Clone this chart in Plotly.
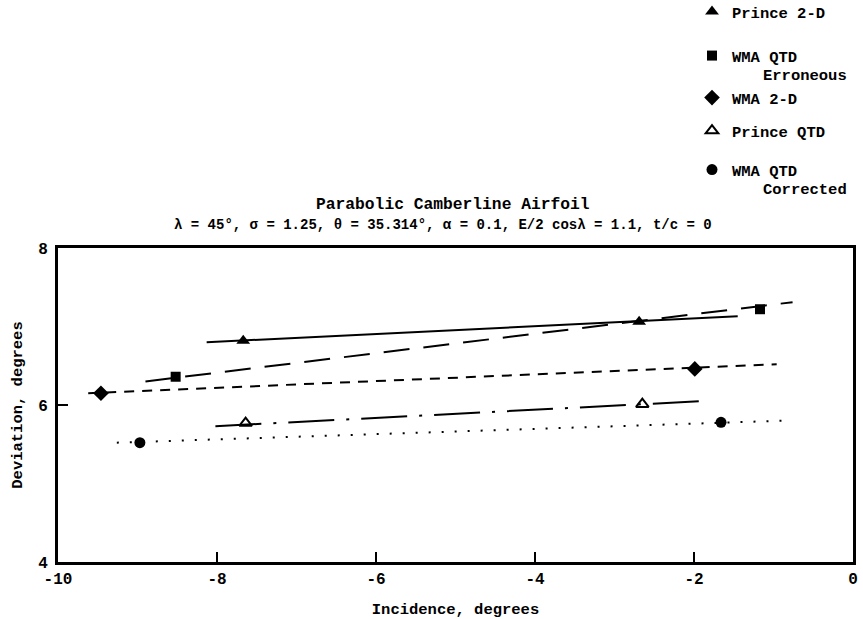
import plotly.graph_objects as go

# ---- data ----
names = ["Prince 2-D", "WMA QTD", "WMA 2-D", "Prince QTD", "WMA QTD"]
sub_names = ["", "Erroneous", "", "", "Corrected"]

# measured points
prince2d_x = [-7.67, -2.69]
prince2d_y = [6.82, 7.06]
wma_err_x = [-8.52, -1.17]
wma_err_y = [6.36, 7.22]
wma2d_x = [-9.46, -1.99]
wma2d_y = [6.15, 6.46]
princeqtd_x = [-7.64, -2.65]
princeqtd_y = [5.77, 6.01]
wma_cor_x = [-8.97, -1.66]
wma_cor_y = [5.52, 5.78]

# faired lines (end points)
prince2d_lx = [-8.13, -1.45]
prince2d_ly = [6.80, 7.13]
wma_err_lx = [-8.9, -0.76]
wma_err_ly = [6.30, 7.31]
wma2d_lx = [-9.62, -0.96]
wma2d_ly = [6.15, 6.52]
princeqtd_lx = [-8.02, -1.89]
princeqtd_ly = [5.73, 6.05]
wma_cor_lx = [-9.26, -0.88]
wma_cor_ly = [5.52, 5.80]

x_ticks = [-10, -8, -6, -4, -2, 0]
y_ticks = [4, 6, 8]

FONT = "Liberation Mono, Courier New, monospace"

W, H = 863, 619
ML, MR, MT, MB = 58, 10, 248, 57
PW, PH = W - ML - MR, H - MT - MB


def px_to_paper_y(py):
    return (H - MB - py) / PH


def px_to_paper_x(px):
    return (px - ML) / PW


series = [
    (prince2d_x, prince2d_y, prince2d_lx, prince2d_ly, "triangle-up", 12, "solid"),
    (wma_err_x, wma_err_y, wma_err_lx, wma_err_ly, "square", 10, "26px,14px"),
    (wma2d_x, wma2d_y, wma2d_lx, wma2d_ly, "diamond", 12, "10px,8px"),
    (princeqtd_x, princeqtd_y, princeqtd_lx, princeqtd_ly, "triangle-up-open", 11, "46px,12px,3px,12px"),
    (wma_cor_x, wma_cor_y, wma_cor_lx, wma_cor_ly, "circle", 11, "2px,11px"),
]

# legend entry pixel centres (from the reference)
legend_py = [12, 56, 98, 131, 170]
legend_sub_py = [None, 76, None, None, 190]
legend_ids = ["legend", "legend2", "legend3", "legend4", "legend5"]

fig = go.Figure()
for px, py, lx, ly, sym, sz, dash in series:
    fig.add_trace(go.Scatter(x=lx, y=ly, mode="lines", showlegend=False,
                             line=dict(color="black", width=2, dash=dash), hoverinfo="skip"))
for i, (px, py, lx, ly, sym, sz, dash) in enumerate(series):
    fig.add_trace(go.Scatter(x=px, y=py, mode="markers", name=names[i], legend=legend_ids[i],
                             marker=dict(symbol=sym, size=sz, color="black",
                                         line=dict(color="black", width=2 if "open" in sym else 0))))

axis_common = dict(showline=True, linecolor="black", linewidth=3, mirror=True,
                   ticks="inside", ticklen=10, tickwidth=2, tickcolor="black",
                   showgrid=False, zeroline=False, automargin=False,
                   tickfont=dict(family=FONT, size=16, color="black", weight="bold"))

legend_font = dict(family=FONT, size=15.5, color="black", weight="bold")
legend_layout = {}
for i, lid in enumerate(legend_ids):
    legend_layout[lid] = dict(x=px_to_paper_x(692), xanchor="left",
                              y=px_to_paper_y(legend_py[i]), yanchor="middle",
                              font=legend_font, bgcolor="rgba(0,0,0,0)", borderwidth=0)

fig.update_layout(
    width=W, height=H,
    margin=dict(l=ML, r=MR, t=MT, b=MB, autoexpand=False),
    paper_bgcolor="white", plot_bgcolor="white",
    font=dict(family=FONT, color="black"),
    xaxis=dict(range=[-10, 0], tickvals=x_ticks, ticktext=[str(v) for v in x_ticks],
               ticklabelstandoff=0,
               title=dict(text="Incidence, degrees", font=dict(family=FONT, size=15.5, weight="bold"), standoff=20),
               **axis_common),
    yaxis=dict(range=[4, 8], tickvals=y_ticks, ticktext=[str(v) for v in y_ticks],
               ticklabelstandoff=4,
               title=dict(text="Deviation, degrees", font=dict(family=FONT, size=15.5, weight="bold"), standoff=12),
               **axis_common),
    showlegend=True,
    **legend_layout,
)

for i, sub in enumerate(sub_names):
    if sub:
        fig.add_annotation(text=sub, xref="paper", yref="paper",
                           x=px_to_paper_x(761), y=px_to_paper_y(legend_sub_py[i]),
                           xanchor="left", yanchor="middle", showarrow=False,
                           font=legend_font)

fig.add_annotation(text="Parabolic Camberline Airfoil", xref="paper", yref="paper",
                   x=0.5, y=1.0, yshift=44, xshift=-3, showarrow=False, xanchor="center", yanchor="middle",
                   font=dict(family=FONT, size=16.3, weight="bold", color="black"))
fig.add_annotation(text="\u03bb = 45\u00b0, \u03c3 = 1.25, \u03b8 = 35.314\u00b0, \u03b1 = 0.1, E/2 cos\u03bb = 1.1, t/c = 0",
                   xref="paper", yref="paper", x=0.5, y=1.0, yshift=23, xshift=-13, showarrow=False,
                   xanchor="center", yanchor="middle",
                   font=dict(family=FONT, size=14, weight="bold", color="black"))

fig.write_html("out.html")
